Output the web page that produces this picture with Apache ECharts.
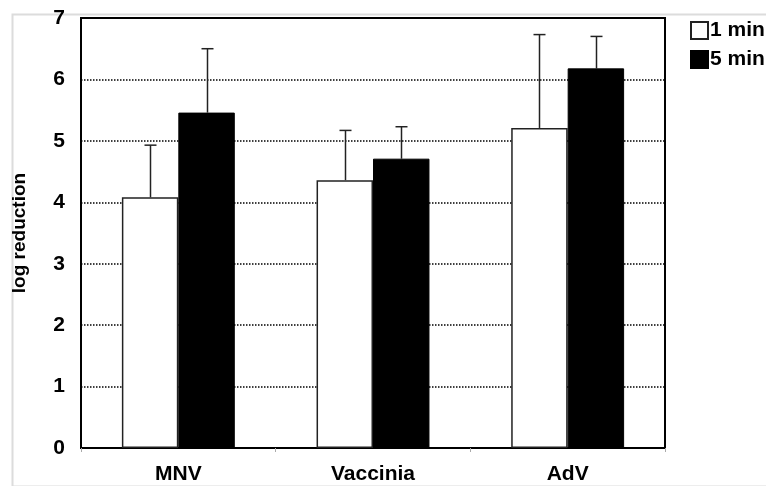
<!DOCTYPE html>
<html>
<head>
<meta charset="utf-8">
<title>log reduction</title>
<script src="https://cdn.jsdelivr.net/npm/echarts@6/dist/echarts.min.js"></script>
<style>
  html, body { margin: 0; padding: 0; background: #fff; }
  #box { width: 766px; height: 486px; }
</style>
</head>
<body>
<div id="box"></div>
<script>
// values
var viruses = ['MNV', 'Vaccinia', 'AdV'];
var yTicks = [0, 1, 2, 3, 4, 5, 6, 7];
var oneMin = [4.08, 4.36, 5.21];
var oneMinErr = [0.85, 0.81, 1.52];   // upper error only
var fiveMin = [5.46, 4.71, 6.18];
var fiveMinErr = [1.04, 0.52, 0.52];

var FONT = "'Liberation Sans', Arial, sans-serif";
var GAP = 0.42; // barCategoryGap

function errData(vals, errs) {
  return vals.map(function (v, i) { return [i, v, errs[i]]; });
}

// side: -1 = left bar, +1 = right bar
function errRender(side) {
  return function (params, api) {
    var cat = api.value(0), v = api.value(1), e = api.value(2);
    var base = api.coord([cat, v]);
    var top = api.coord([cat, v + e]);
    var band = api.size([1, 0])[0];
    var barW = band * (1 - GAP) / 2;
    var x = Math.round(base[0] + side * barW / 2) + 0.5;
    var st = { stroke: '#222', lineWidth: 1.5 };
    return {
      type: 'group',
      children: [
        { type: 'line', shape: { x1: x, y1: base[1], x2: x, y2: top[1] }, style: st },
        { type: 'line', shape: { x1: x - 6, y1: top[1], x2: x + 6, y2: top[1] }, style: st }
      ]
    };
  };
}

var chart = echarts.init(document.getElementById('box'));
chart.setOption({
  backgroundColor: '#fff',
  animation: false,
  textStyle: { fontFamily: FONT },
  graphic: [{
    type: 'rect', left: 10, top: 12, z: -10,
    shape: { width: 780, height: 472 },
    style: { fill: 'none', stroke: '#dcdcdc', lineWidth: 2 }
  }],
  legend: {
    orient: 'vertical',
    left: 690, top: 20, padding: 0,
    icon: 'rect',
    itemWidth: 17, itemHeight: 17, itemGap: 8,
    data: ['1 min', '5 min'],
    textStyle: { fontFamily: FONT, fontWeight: 'bold', fontSize: 21, color: '#000', padding: [0, 0, 0, -3] }
  },
  grid: {
    left: 81, right: 101, top: 18, bottom: 38,
    show: true, borderColor: '#000', borderWidth: 2
  },
  xAxis: {
    type: 'category',
    data: viruses,
    axisLine: { lineStyle: { color: '#000', width: 2 } },
    axisTick: { show: true, length: 4, lineStyle: { color: '#aaa' } },
    axisLabel: { fontFamily: FONT, fontWeight: 'bold', fontSize: 21, color: '#000', margin: 16 }
  },
  yAxis: {
    type: 'value',
    min: yTicks[0], max: yTicks[yTicks.length - 1], interval: 1,
    name: 'log reduction',
    nameLocation: 'middle',
    nameGap: 52,
    nameTextStyle: { fontFamily: FONT, fontWeight: 'bold', fontSize: 19, color: '#000' },
    axisLine: { show: true, lineStyle: { color: '#000', width: 2 } },
    axisTick: { show: false },
    axisLabel: { fontFamily: FONT, fontWeight: 'bold', fontSize: 21, color: '#000', margin: 16 },
    splitLine: { lineStyle: { color: '#000', type: [1.5, 1.5], width: 1.5 } }
  },
  series: [
    {
      name: '1 min', type: 'bar', data: oneMin,
      barGap: '0%', barCategoryGap: (GAP * 100) + '%',
      itemStyle: { color: '#fff', borderColor: '#222', borderWidth: 1.5 }
    },
    {
      name: '5 min', type: 'bar', data: fiveMin,
      itemStyle: { color: '#000', borderColor: '#000', borderWidth: 1 }
    },
    {
      type: 'custom', name: 'err1', renderItem: errRender(-1),
      data: errData(oneMin, oneMinErr), z: 1,
      encode: { x: 0, y: [1, 2] }
    },
    {
      type: 'custom', name: 'err5', renderItem: errRender(1),
      data: errData(fiveMin, fiveMinErr), z: 1,
      encode: { x: 0, y: [1, 2] }
    }
  ]
});
</script>
</body>
</html>
